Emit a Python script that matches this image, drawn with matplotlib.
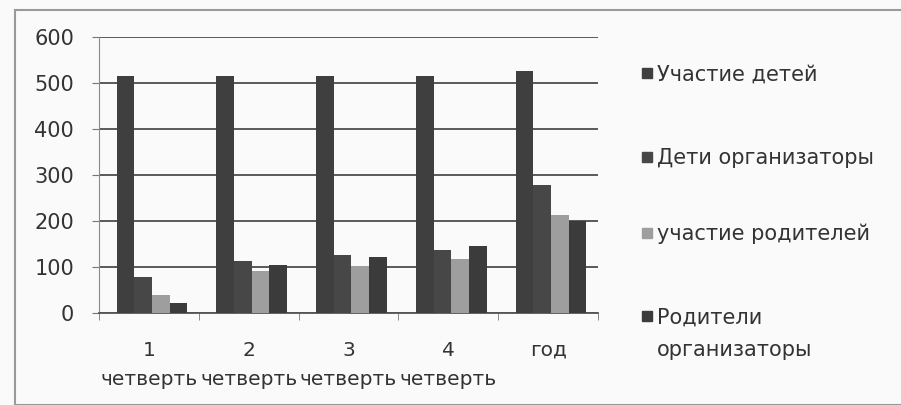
import matplotlib.pyplot as plt
from matplotlib.patches import Rectangle
import numpy as np

categories = ['1\nчетверть', '2\nчетверть', '3\nчетверть', '4\nчетверть', 'год']
series_names = ['Участие детей', 'Дети организаторы', 'участие родителей',
                'Родители\nорганизаторы']
uchastie_detey = [515, 515, 515, 515, 527]
deti_organizatory = [79, 113, 126, 137, 279]
uchastie_roditeley = [40, 91, 102, 117, 214]
roditeli_organizatory = [21, 104, 121, 145, 201]
yticks = [0, 100, 200, 300, 400, 500, 600]

series = [uchastie_detey, deti_organizatory, uchastie_roditeley, roditeli_organizatory]
colors = ['#3f3f3f', '#474747', '#9e9e9e', '#3b3b3b']

plt.rcParams['font.family'] = ['DejaVu Sans']
txt = '#333333'
W, H = 901, 405

fig = plt.figure(figsize=(9.01, 4.05), dpi=100)
fig.patch.set_facecolor('#fbfafb')
fig.patches.append(Rectangle((15 / W, 0), 1, 1 - 10 / H, transform=fig.transFigure,
                             fill=False, edgecolor='#9a9a9a', linewidth=1.5))

ax = fig.add_axes([99 / W, 1 - 313 / H, (598 - 99) / W, (313 - 37) / H])
ax.set_facecolor('#fbfafb')

x = np.arange(len(categories))
w = 0.177
for i, vals in enumerate(series):
    ax.bar(x + (i - 1.5) * w + 0.03, vals, width=w, color=colors[i], zorder=3)

ax.set_xlim(-0.5, len(categories) - 0.5)
ax.set_ylim(0, 600)
ax.set_yticks(yticks)
ax.yaxis.grid(True, color='#4d4d4d', linewidth=1.3, zorder=0)
ax.set_axisbelow(True)

ax.set_xticks(x)
ax.set_xticklabels(categories, fontsize=14.5, color=txt, linespacing=1.7)
ax.set_xticks(np.arange(len(categories) + 1) - 0.5, minor=True)
ax.tick_params(axis='x', which='major', length=0, pad=20)
ax.tick_params(axis='x', which='minor', length=5, color='#777777', direction='out')
ax.tick_params(axis='y', length=5, color='#777777', pad=13, labelsize=15, labelcolor=txt)

for s in ['top', 'right']:
    ax.spines[s].set_visible(False)
ax.spines['left'].set_color('#8a8a8a')
ax.spines['bottom'].set_color('#555555')
ax.spines['bottom'].set_linewidth(1.3)

# legend: square next to the first line of each entry
leg_y = [73, 157, 233, 316]
for name, c, yc in zip(series_names, colors, leg_y):
    fig.patches.append(Rectangle((642 / W, 1 - (yc + 5) / H), 10 / W, 10 / H,
                                 transform=fig.transFigure, color=c))
    for k, line in enumerate(name.split('\n')):
        fig.text(657 / W, 1 - (yc + 7.5 + 32 * k) / H, line, va='baseline', ha='left',
                 fontsize=15, color=txt)

fig.savefig('out.png', dpi=100, facecolor=fig.get_facecolor())
